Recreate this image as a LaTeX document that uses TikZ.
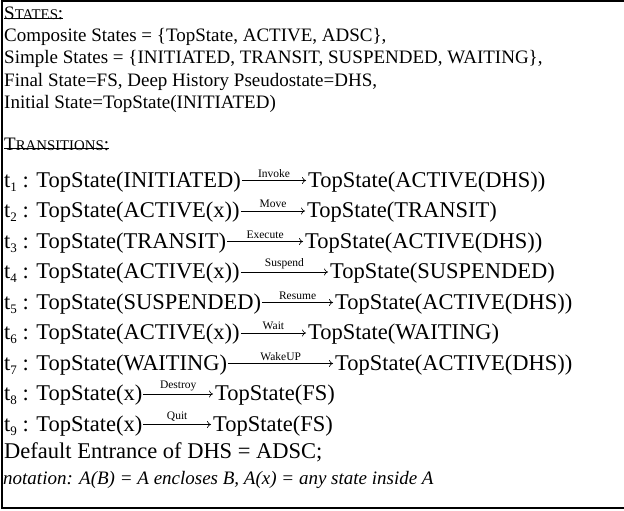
\documentclass[tikz,border=0pt]{standalone}
\usepackage{fontspec}
\setmainfont{Liberation Serif}
\usetikzlibrary{arrows.meta}
\newcommand{\tsubs}[1]{\raisebox{-4pt}{\fontsize{13}{13}\selectfont #1}}
\newcommand{\fakesc}[2]{#1{\fontsize{14.8}{14.8}\selectfont #2}}
\begin{document}
\begin{tikzpicture}[x=1pt,y=-1pt,
  txt/.style={anchor=base west, inner sep=0pt, font=\fontsize{19}{19}\selectfont},
  eqt/.style={anchor=base west, inner sep=0pt, font=\fontsize{22.5}{22.5}\selectfont},
  lbl/.style={inner sep=0pt, font=\fontsize{11.5}{11.5}\selectfont},
  trarr/.style={-{To[length=4pt,width=7pt]}, line width=0.6pt},
  frame/.style={line width=2pt}]
\useasboundingbox (0,0) rectangle (624,511);
% frame
\coordinate (tl) at (1.5,1);
\coordinate (tr) at (624,1);
\coordinate (bl) at (1.5,507.5);
\coordinate (br) at (624,507.5);
\draw[frame] (tr) -- (tl) -- (bl) -- (br);
% states
\node[txt] (hs) at (4,20) {\fakesc{S}{TATES}:};
\draw[line width=0.6pt] ([yshift=2pt]hs.base west) -- ([yshift=2pt]hs.base east);
\node[txt] (l1) at (4,42) {Composite States = \{TopState, ACTIVE, ADSC\},};
\node[txt] (l2) at (4,64) {Simple States = \{INITIATED, TRANSIT, SUSPENDED, WAITING\},};
\node[txt] (l3) at (4,86) {Final State=FS, Deep History Pseudostate=DHS,};
\node[txt] (l4) at (4,108) {Initial State=TopState(INITIATED)};
\node[txt] (ht) at (4,150) {\fakesc{T}{RANSITIONS}:};
\draw[line width=0.6pt] ([yshift=2pt]ht.base west) -- ([yshift=2pt]ht.base east);
% transitions
\foreach \k/\yb/\tx/\src/\lab/\dst in {
  1/187/308/TopState(INITIATED)/Invoke/TopState(ACTIVE(DHS)),
  2/217.5/307/TopState(ACTIVE(x))/Move/TopState(TRANSIT),
  3/248/305/TopState(TRANSIT)/Execute/TopState(ACTIVE(DHS)),
  4/278.5/330/TopState(ACTIVE(x))/Suspend/TopState(SUSPENDED),
  5/309/335/TopState(SUSPENDED)/Resume/TopState(ACTIVE(DHS)),
  6/339.5/308/TopState(ACTIVE(x))/Wait/TopState(WAITING),
  7/370/335/TopState(WAITING)/WakeUP/TopState(ACTIVE(DHS)),
  8/400.5/215/TopState(x)/Destroy/TopState(FS),
  9/431/213/TopState(x)/Quit/TopState(FS)}{
  \node[eqt] (s\k) at (4,\yb) {t\tsubs{\k} : \src};
  \coordinate (e\k) at (\tx-2,\yb-6.5);
  \draw[trarr] ([xshift=1pt]s\k.east |- e\k) -- node[lbl, above=3pt] {\lab} (e\k);
  \node[eqt] (d\k) at (\tx,\yb) {\dst};
}
\node[eqt] (df) at (4,458) {Default Entrance of DHS = ADSC;};
\node[txt, font=\fontsize{19}{19}\selectfont\itshape] (nt) at (3,484) {notation: A(B) = A encloses B, A(x) = any state inside A};
\end{tikzpicture}
\end{document}
